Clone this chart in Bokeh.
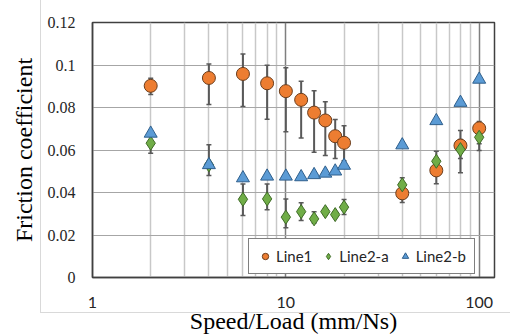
from bokeh.plotting import figure
from bokeh.models import (ColumnDataSource, FixedTicker, Whisker, TeeHead, Range1d)
from bokeh.embed import file_html
from bokeh.resources import INLINE

# ---- data ----
speed = [2, 4, 6, 8, 10, 12, 14, 16, 18, 20, 40, 60, 80, 100]

line1 = [0.0902, 0.0939, 0.0958, 0.0914, 0.0877, 0.0836, 0.0776, 0.0739,
         0.0665, 0.0634, 0.0396, 0.0504, 0.0621, 0.0702]
line1_upper = [0.0938, 0.1005, 0.1052, 0.0999, 0.0987, 0.0924, 0.0879, 0.0827,
               0.0743, 0.0714, 0.0425, 0.0540, 0.0692, 0.0734]
line1_lower = [0.0861, 0.0814, 0.0805, 0.0745, 0.0686, 0.0656, 0.0590, 0.0574,
               0.0560, 0.0550, 0.0353, 0.0441, 0.0493, 0.0598]

line2a = [0.0632, 0.0530, 0.0368, 0.0370, 0.0284, 0.0310, 0.0276, 0.0310,
          0.0296, 0.0331, 0.0436, 0.0547, 0.0602, 0.0660]
line2a_upper = [0.0668, 0.0625, 0.0440, 0.0440, 0.0370, 0.0352, 0.0310, 0.0325,
                0.0310, 0.0367, 0.0469, 0.0594, 0.0650, 0.0690]
line2a_lower = [0.0585, 0.0480, 0.0292, 0.0319, 0.0234, 0.0268, 0.0256, 0.0295,
                0.0285, 0.0296, 0.0405, 0.0500, 0.0560, 0.0630]

line2b = [0.0678, 0.0530, 0.0468, 0.0476, 0.0476, 0.0473, 0.0483, 0.0490,
          0.0500, 0.0527, 0.0623, 0.0737, 0.0823, 0.0932]

x_ticks = [1, 10, 100]
x_tick_labels = ["1", "10", "100"]
x_minor = [2, 3, 4, 5, 6, 7, 8, 9, 20, 30, 40, 50, 60, 70, 80, 90]
y_ticks = [0, 0.02, 0.04, 0.06, 0.08, 0.1, 0.12]
y_tick_labels = ["0", "0.02", "0.04", "0.06", "0.08", "0.1", "0.12"]

# ---- figure ----
p = figure(width=510, height=336, x_axis_type="log",
           x_range=Range1d(1, 120), y_range=Range1d(0, 0.12),
           output_backend="svg", toolbar_location=None,
           min_border_left=92, min_border_right=16,
           min_border_top=22, min_border_bottom=59)
p.background_fill_color = "white"
p.border_fill_alpha = 0
p.outline_line_color = "#404040"
p.outline_line_width = 1.5

# light chart-area border (left and bottom edges), drawn behind the canvas
p.styles = {
    "background-color": "white",
    "background-image": "linear-gradient(#d9d9d9, #d9d9d9), linear-gradient(#d9d9d9, #d9d9d9)",
    "background-size": "1px 313px, 470px 1px",
    "background-position": "40px 0px, 40px 312px",
    "background-repeat": "no-repeat",
}

# axes
p.xaxis.ticker = FixedTicker(ticks=x_ticks, minor_ticks=x_minor)
p.xaxis.major_label_overrides = dict(zip(x_ticks, x_tick_labels))
p.yaxis.ticker = FixedTicker(ticks=y_ticks)
p.yaxis.major_label_overrides = dict(zip(y_ticks, y_tick_labels))

for ax in (p.xaxis[0], p.yaxis[0]):
    ax.axis_line_color = "#404040"
    ax.axis_line_width = 1.5
    ax.major_tick_line_color = None
    ax.minor_tick_line_color = None
    ax.major_tick_out = 0
    ax.major_tick_in = 0

p.xaxis.major_label_text_font = "Lato"
p.xaxis.major_label_text_font_size = "16px"
p.xaxis.major_label_text_color = "#262626"
p.xaxis.major_label_standoff = 15
p.xaxis.axis_label = "Speed/Load (mm/Ns)"
p.xaxis.axis_label_text_font = "Liberation Serif"
p.xaxis.axis_label_text_font_size = "24px"
p.xaxis.axis_label_text_font_style = "normal"
p.xaxis.axis_label_text_color = "black"
p.xaxis.axis_label_standoff = -3

p.yaxis.major_label_text_font = "Liberation Serif"
p.yaxis.major_label_text_font_size = "16px"
p.yaxis.major_label_text_color = "#262626"
p.yaxis.major_label_standoff = 17
p.yaxis.axis_label = "Friction coefficient"
p.yaxis.axis_label_text_font = "Liberation Serif"
p.yaxis.axis_label_text_font_size = "24px"
p.yaxis.axis_label_text_font_style = "normal"
p.yaxis.axis_label_text_color = "black"
p.yaxis.axis_label_standoff = 8

# grids
p.xgrid.grid_line_color = "#7f7f7f"
p.xgrid.grid_line_width = 1.5
p.xgrid.minor_grid_line_color = "#c8c8c8"
p.xgrid.minor_grid_line_width = 1.5
p.ygrid.grid_line_color = "#a6a6a6"
p.ygrid.grid_line_width = 1

# error bars
err_color = "#595959"
src1 = ColumnDataSource(dict(x=speed, y=line1, upper=line1_upper, lower=line1_lower))
src2 = ColumnDataSource(dict(x=speed, y=line2a, upper=line2a_upper, lower=line2a_lower))
src3 = ColumnDataSource(dict(x=speed, y=line2b))
for src in (src1, src2):
    w = Whisker(source=src, base="x", upper="upper", lower="lower",
                dimension="height", line_color=err_color, line_width=2,
                upper_head=TeeHead(size=5, line_color=err_color, line_width=1.5),
                lower_head=TeeHead(size=5, line_color=err_color, line_width=1.5))
    p.add_layout(w)

# markers
p.scatter("x", "y", source=src1, marker="circle", size=13,
          fill_color="#ED7D31", line_color="#6b3d1c", line_width=1,
          legend_label="Line1")
p.scatter("x", "y", source=src2, marker="diamond", size=14,
          fill_color="#70AD47", line_color="#3f6b27", line_width=1,
          legend_label="Line2-a")
p.scatter("x", "y", source=src3, marker="triangle", size=13,
          fill_color="#5B9BD5", line_color="#2f5f8c", line_width=1,
          legend_label="Line2-b")

# legend
lg = p.legend[0]
lg.orientation = "horizontal"
lg.location = (156, 3)
lg.margin = 0
lg.padding = 8
lg.spacing = 8
lg.glyph_width = 16
lg.glyph_height = 16
lg.label_height = 16
lg.label_standoff = 3
lg.label_text_font = "Lato"
lg.label_text_font_size = "15px"
lg.label_text_color = "#262626"
lg.border_line_color = "black"
lg.border_line_width = 1.2
lg.background_fill_color = "white"
lg.background_fill_alpha = 1

open("out.html", "w").write(file_html(p, INLINE))
